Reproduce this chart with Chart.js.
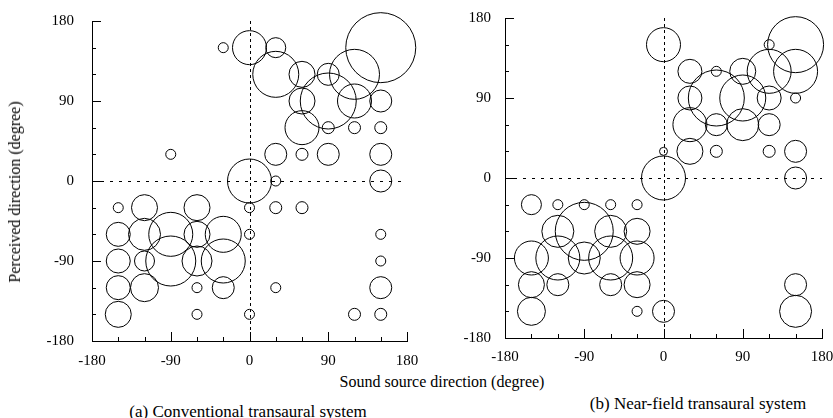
<!DOCTYPE html>
<html>
<head>
<meta charset="utf-8">
<script src="https://cdn.jsdelivr.net/npm/chart.js@4"></script>
<style>
  html, body { margin: 0; padding: 0; background: #fff; }
  #wrap { position: relative; width: 833px; height: 418px; overflow: hidden; font-family: "Liberation Serif", "DejaVu Serif", serif; color: #000; }
  canvas { position: absolute; top: 0; }
  #chartA { left: 0; }
  #chartB { left: 420px; }
  .txt { position: absolute; white-space: nowrap; font-size: 16px; line-height: 1; }
  #ytitle { left: 15px; top: 192px; transform: translate(-50%, -50%) rotate(-90deg); }
  #xtitle { left: 442px; top: 382px; transform: translate(-50%, -50%); }
  #capA { left: 248px; top: 411px; transform: translate(-50%, -50%); font-size: 17px; }
  #capB { left: 698px; top: 403px; transform: translate(-50%, -50%); font-size: 17px; }
</style>
</head>
<body>
<div id="wrap">
  <canvas id="chartA" width="420" height="370"></canvas>
  <canvas id="chartB" width="413" height="370"></canvas>
  <div class="txt" id="ytitle">Perceived direction (degree)</div>
  <div class="txt" id="xtitle">Sound source direction (degree)</div>
  <div class="txt" id="capA">(a) Conventional transaural system</div>
  <div class="txt" id="capB">(b) Near-field transaural system</div>
</div>
<script>
// (a) conventional transaural system: source dir, perceived dir, response size
const sourceA = [-30, 0, 30, 150,
  30, 60, 90, 120,
  60, 90, 120, 150,
  60, 90, 120, 150,
  -90, 30, 60, 90, 150,
  0, 30, 150,
  -150, -120, -60, 0, 30, 60,
  -150, -120, -90, -60, -30, 0, 150,
  -150, -120, -90, -60, -30, 150,
  -150, -120, -60, -30, 30, 150,
  -150, -60, 0, 120, 150];
const perceivedA = [150, 150, 150, 150,
  120, 120, 120, 120,
  90, 90, 90, 90,
  60, 60, 60, 60,
  30, 30, 30, 30, 30,
  0, 0, 0,
  -30, -30, -30, -30, -30, -30,
  -60, -60, -60, -60, -60, -60, -60,
  -90, -90, -90, -90, -90, -90,
  -120, -120, -120, -120, -120, -120,
  -150, -150, -150, -150, -150];
const sizeA = [5, 17, 10, 35,
  23, 13, 11, 25,
  13, 28, 17, 11,
  17, 6, 6, 6,
  5, 11, 6, 11, 11,
  22, 5, 11,
  5, 13, 13, 5, 6, 6,
  12, 16, 22, 13, 18, 5, 5,
  12, 10, 25, 15, 22, 5,
  12, 14, 5, 11, 5, 11,
  13, 5, 5, 6, 6];

// (b) near-field transaural system
const sourceB = [0, 120, 150,
  30, 60, 90, 120, 150,
  30, 60, 90, 120, 150,
  30, 60, 90, 120,
  0, 30, 60, 120, 150,
  0, 150,
  -150, -120, -90, -60, -30,
  -120, -90, -60, -30,
  -150, -120, -90, -60, -30,
  -150, -120, -60, -30, 150,
  -150, -30, 0, 150];
const perceivedB = [150, 150, 150,
  120, 120, 120, 120, 120,
  90, 90, 90, 90, 90,
  60, 60, 60, 60,
  30, 30, 30, 30, 30,
  0, 0,
  -30, -30, -30, -30, -30,
  -60, -60, -60, -60,
  -90, -90, -90, -90, -90,
  -120, -120, -120, -120, -120,
  -150, -150, -150, -150];
const sizeB = [17, 5, 28,
  12, 5, 13, 22, 22,
  12, 28, 23, 12, 5,
  17, 11, 16, 11,
  4, 13, 6, 6, 11,
  22, 11,
  10, 5, 5, 5, 5,
  16, 29, 16, 13,
  17, 22, 16, 22, 17,
  13, 11, 11, 13, 11,
  14, 5, 11, 16];

const axisTicks = [-180, -90, 0, 90, 180];
const R_UNIT = 1;
const FONT = { family: "'Liberation Serif', 'DejaVu Serif', serif", size: 15 };

const frame = {
  id: 'frame',
  beforeDatasetsDraw(chart) {
    const { ctx, chartArea: a, scales: { x, y } } = chart;
    const x0 = Math.round(x.getPixelForValue(0)) + 0.5;
    const y0 = Math.round(y.getPixelForValue(0)) + 0.5;
    ctx.save();
    ctx.strokeStyle = '#000';
    ctx.lineWidth = 1;
    ctx.setLineDash([3, 6]);
    ctx.beginPath(); ctx.moveTo(a.left, y0); ctx.lineTo(a.right, y0); ctx.stroke();
    ctx.setLineDash([3, 3]);
    ctx.beginPath(); ctx.moveTo(x0, a.top); ctx.lineTo(x0, a.bottom); ctx.stroke();
    ctx.restore();
  },
  afterDraw(chart) {
    const { ctx, chartArea: a, scales: { x, y } } = chart;
    ctx.save();
    ctx.strokeStyle = '#000';
    ctx.lineWidth = 1;
    ctx.beginPath();
    x.ticks.forEach(t => {
      const p = Math.round(x.getPixelForValue(t.value)) + 0.5;
      const len = axisTicks.includes(t.value) ? 9 : 4;
      ctx.moveTo(p, a.bottom); ctx.lineTo(p, a.bottom - len);
    });
    y.ticks.forEach(t => {
      const p = Math.round(y.getPixelForValue(t.value)) + 0.5;
      const len = axisTicks.includes(t.value) ? 9 : 4;
      ctx.moveTo(a.left, p); ctx.lineTo(a.left + len, p);
    });
    ctx.stroke();
    ctx.restore();
  }
};

function makeChart(id, xs, ys, sizes, box) {
  const points = xs.map((v, i) => ({ x: v, y: ys[i], r: sizes[i] * R_UNIT }));
  const label = v => axisTicks.includes(v) ? String(v) : '';
  return new Chart(document.getElementById(id), {
    type: 'bubble',
    data: {
      datasets: [{
        data: points,
        backgroundColor: 'rgba(0,0,0,0)',
        borderColor: '#000',
        borderWidth: 1,
        hoverRadius: 0,
        clip: false
      }]
    },
    options: {
      responsive: false,
      animation: false,
      events: [],
      layout: { autoPadding: false, padding: box.padding },
      plugins: { legend: { display: false }, tooltip: { enabled: false } },
      scales: {
        x: {
          type: 'linear', min: -180, max: 180,
          grid: { display: false },
          border: { display: true, color: '#000', width: 1 },
          ticks: { stepSize: 30, autoSkip: false, maxRotation: 0, color: '#000', font: FONT, padding: box.xPad, callback: label },
          afterFit(s) { s.height = box.xHeight; s.paddingLeft = 0; s.paddingRight = 0; }
        },
        y: {
          type: 'linear', min: -180, max: 180,
          grid: { display: false },
          border: { display: true, color: '#000', width: 1 },
          ticks: { stepSize: 30, autoSkip: false, color: '#000', font: FONT, padding: box.yPad, callback: label },
          afterFit(s) { s.width = box.yWidth; s.paddingTop = 0; s.paddingBottom = 0; }
        }
      }
    },
    plugins: [frame]
  });
}

makeChart('chartA', sourceA, perceivedA, sizeA, {
  padding: { left: 0, right: 13, top: 21, bottom: 0 },
  yWidth: 92, xHeight: 29, xPad: 3, yPad: 10
});
makeChart('chartB', sourceB, perceivedB, sizeB, {
  padding: { left: 0, right: 11, top: 18, bottom: 0 },
  yWidth: 85, xHeight: 32, xPad: 2, yPad: 6
});
</script>
</body>
</html>
